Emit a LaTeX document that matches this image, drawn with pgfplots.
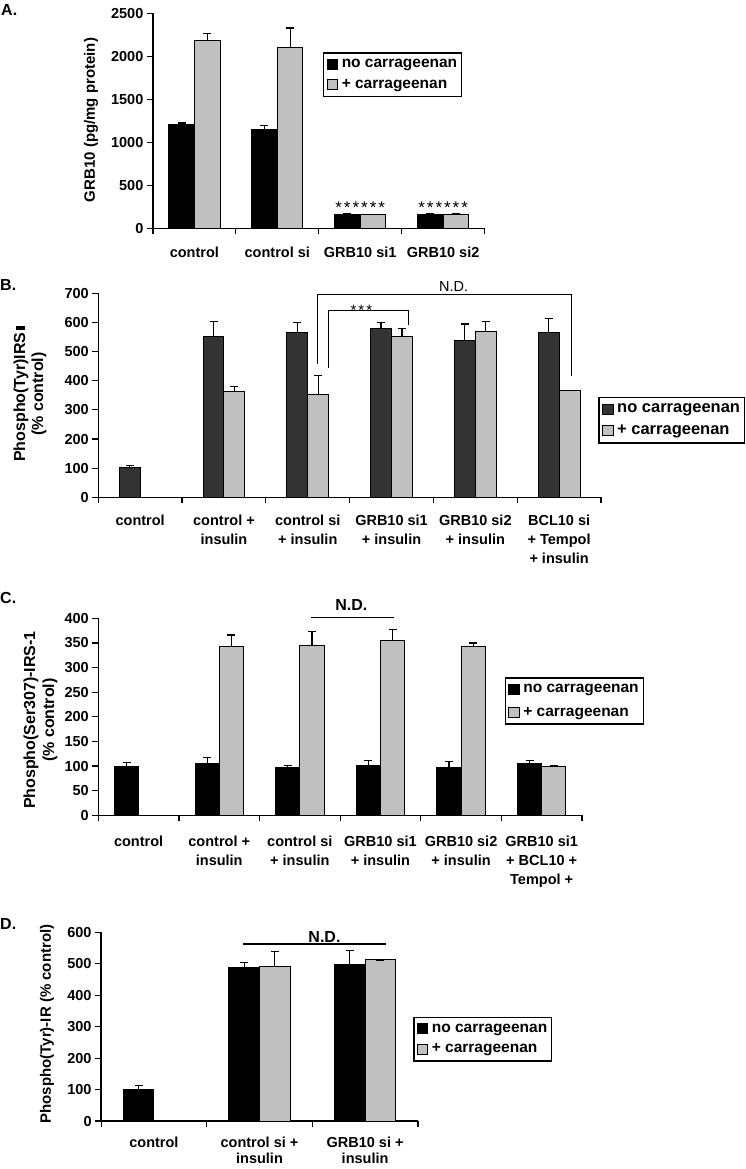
\documentclass[border=0pt]{standalone}
\usepackage{pgfplots}
\pgfplotsset{compat=1.18}
\usepackage{fontspec}
\setmainfont{Liberation Sans}
\definecolor{lg}{HTML}{C0C0C0}
\definecolor{dg}{HTML}{333333}
\newcommand\fs[2]{\fontsize{#1}{#2}\selectfont\bfseries}
\def\sk{\kern2pt}
\pgfplotsset{
  panel/.style={
    scale only axis, anchor=south west,
    axis x line*=bottom, axis y line*=left,
    axis line style={line width=1.3pt,-},
    ymin=0, xmin=-0.5,
    tick align=outside, major tick length=6pt,
    tick style={line width=1.2pt, black},
    x tick label as interval,
    ticklabel style={font=\fs{14.5}{19}},
    xticklabel style={align=center, anchor=north, yshift=-8pt},
    /pgf/number format/assume math mode=true,
    /pgf/number format/1000 sep={},
    clip=false,
    legend cell align=left,
    legend image code/.code={\draw[##1, line width=1pt] (0pt,-5pt) rectangle (10.5pt,5pt);},
    legend style={draw=black, line width=1.4pt, font=\fs{15.5}{18}, anchor=north west,
      inner xsep=3pt, inner ysep=5pt, row sep=7pt, nodes={inner sep=1.5pt},
      /tikz/every odd column/.append style={column sep=2pt}},
  },
  errs/.style={/pgfplots/error bars/y dir=plus, /pgfplots/error bars/y explicit,
    /pgfplots/error bars/error bar style={line width=1.2pt,black},
    /pgfplots/error bars/error mark options={rotate=90, mark size=4pt, line width=1.2pt, black}},
}
\begin{document}
\begin{tikzpicture}
\useasboundingbox (0,0) rectangle (745pt,-1169pt);
% ---------------- A
\node[anchor=west, inner sep=0, font=\fs{16}{18}] at (1pt,-10pt) {A.};
\node[rotate=90, font=\fs{15}{17}] at (91pt,-120pt) {GRB10 (pg/mg protein)};
\begin{axis}[panel, at={(152.9pt,-228.3pt)}, width=331.7pt, height=215pt,
  xmax=3.5, ymax=2500, ytick={0,500,...,2500},
  xtick={-0.5,0.5,1.5,2.5,3.5},
  xticklabels={control, control si, GRB10 si1, GRB10 si2},
  xticklabel style={yshift=-1pt},
  legend style={at={(0.513,0.819)}}]
\addplot[ybar, fill=black, draw=black, line width=1pt, bar width=0.31, bar shift=0pt, errs]
  coordinates {(-0.155,1210) +- (0,15) (0.845,1150) +- (0,50) (1.845,165) +- (0,5) (2.845,165) +- (0,10)};
\addlegendentry{no carrageenan}
\addplot[ybar, fill=lg, draw=black, line width=1pt, bar width=0.31, bar shift=0pt, errs]
  coordinates {(0.155,2180) +- (0,85) (1.155,2100) +- (0,230) (2.155,155) +- (0,8) (3.155,165) +- (0,8)};
\addlegendentry{+ carrageenan}
\node[font=\fontsize{17}{18}\selectfont] at (axis cs:2,236) {*\sk*\sk*\sk*\sk*\sk*};
\node[font=\fontsize{17}{18}\selectfont] at (axis cs:3,236) {*\sk*\sk*\sk*\sk*\sk*};
\end{axis}
% ---------------- B
\node[anchor=west, inner sep=0, font=\fs{16}{18}] at (0pt,-285pt) {B.};
\node[rotate=90, align=center, font=\fs{16}{18}] at (30pt,-394pt) {Phospho(Tyr)IRS\,\rule{3.5pt}{9pt}\\(\% control)};
\begin{axis}[panel, at={(98.3pt,-497.3pt)}, width=502.7pt, height=204pt,
  xmax=5.5, ymax=700, ytick={0,100,...,700},
  xtick={-0.5,0.5,...,5.5},
  xticklabels={control, {control +\\insulin}, {control si\\+ insulin}, {GRB10 si1\\+ insulin}, {GRB10 si2\\+ insulin}, {BCL10 si\\+ Tempol\\+ insulin}},
  legend style={at={(0.995,0.493)}, font=\fs{16.5}{19}, row sep=8pt}]
\addplot[ybar, fill=dg, draw=black, line width=1pt, bar width=0.25, bar shift=0pt, errs]
  coordinates {(-0.125,102) +- (0,8) (0.875,553) +- (0,50) (1.875,566) +- (0,33) (2.875,579) +- (0,20) (3.875,537) +- (0,58) (4.875,566) +- (0,47)};
\addlegendentry{no carrageenan}
\addplot[ybar, fill=lg, draw=black, line width=1pt, bar width=0.25, bar shift=0pt, errs]
  coordinates {(1.125,362) +- (0,17) (2.125,354) +- (0,65) (3.125,553) +- (0,27) (4.125,569) +- (0,34) (5.125,366) +- (0,0)};
\addlegendentry{+ carrageenan}
\draw[line width=1.2pt] (axis cs:2.12,459) -- (axis cs:2.12,697) -- (axis cs:5.15,697) -- (axis cs:5.15,415);
\draw[line width=1.2pt] (axis cs:2.245,442) -- (axis cs:2.245,642) -- (axis cs:3.2,642) -- (axis cs:3.2,591);
\node[font=\fontsize{14.5}{16}\selectfont] at (axis cs:3.74,722) {N.D.};
\node[font=\fontsize{15}{16}\selectfont] at (axis cs:2.64,640) {*\sk*\sk*};
\end{axis}
% ---------------- C
\node[anchor=west, inner sep=0, font=\fs{16}{18}] at (0pt,-598pt) {C.};
\node[rotate=90, align=center, font=\fs{16}{19}] at (40.5pt,-720pt) {Phospho(Ser307)-IRS-1\\(\% control)};
\begin{axis}[panel, at={(98.3pt,-815.3pt)}, width=483.7pt, height=197pt,
  xmax=5.5, ymax=400, ytick={0,50,...,400},
  xtick={-0.5,0.5,...,5.5},
  xticklabels={control, {control +\\insulin}, {control si\\+ insulin}, {GRB10 si1\\+ insulin}, {GRB10 si2\\+ insulin}, {GRB10 si1\\+ BCL10 +\\Tempol +}},
  xticklabel style={yshift=-3pt},
  legend style={at={(0.84,0.70)}, row sep=9.5pt}]
\addplot[ybar, fill=black, draw=black, line width=1pt, bar width=0.3, bar shift=0pt, errs]
  coordinates {(-0.15,100) +- (0,7) (0.85,105) +- (0,13) (1.85,97) +- (0,4.5) (2.85,102) +- (0,10) (3.85,97) +- (0,12) (4.85,105) +- (0,7)};
\addlegendentry{no carrageenan}
\addplot[ybar, fill=lg, draw=black, line width=1pt, bar width=0.3, bar shift=0pt, errs]
  coordinates {(1.15,342) +- (0,24) (2.15,344) +- (0,30) (3.15,355) +- (0,22) (4.15,342) +- (0,8) (5.15,100) +- (0,0)};
\addlegendentry{+ carrageenan}
\draw[line width=1.3pt] (axis cs:2.14,401) -- (axis cs:3.17,401);
\node[font=\fs{16}{18}] at (axis cs:2.64,428) {N.D.};
\end{axis}
% ---------------- D
\node[anchor=west, inner sep=0, font=\fs{16}{18}] at (0pt,-924pt) {D.};
\node[rotate=90, font=\fs{15}{17}] at (47pt,-1024pt) {Phospho(Tyr)-IR (\% control)};
\begin{axis}[panel, at={(101.1pt,-1121pt)}, width=316.8pt, height=188.7pt,
  xmax=2.5, ymax=600, ytick={0,100,...,600},
  xtick={-0.5,0.5,1.5,2.5},
  xticklabels={control, {control si +\\insulin}, {GRB10 si +\\insulin}},
  xticklabel style={yshift=2pt, font=\fs{14.5}{16.5}},
  legend style={at={(0.985,0.553)}}]
\addplot[ybar, fill=black, draw=black, line width=1pt, bar width=0.29, bar shift=0pt, errs]
  coordinates {(-0.145,101) +- (0,11) (0.855,487) +- (0,18) (1.855,499) +- (0,44)};
\addlegendentry{no carrageenan}
\addplot[ybar, fill=lg, draw=black, line width=1pt, bar width=0.29, bar shift=0pt, errs]
  coordinates {(1.145,491) +- (0,49) (2.145,512) +- (0,0)};
\addlegendentry{+ carrageenan}
\draw[line width=1.3pt] (axis cs:0.843,563) -- (axis cs:2.195,563);
\node[font=\fs{16}{18}] at (axis cs:1.615,586) {N.D.};
\end{axis}
\end{tikzpicture}
\end{document}
